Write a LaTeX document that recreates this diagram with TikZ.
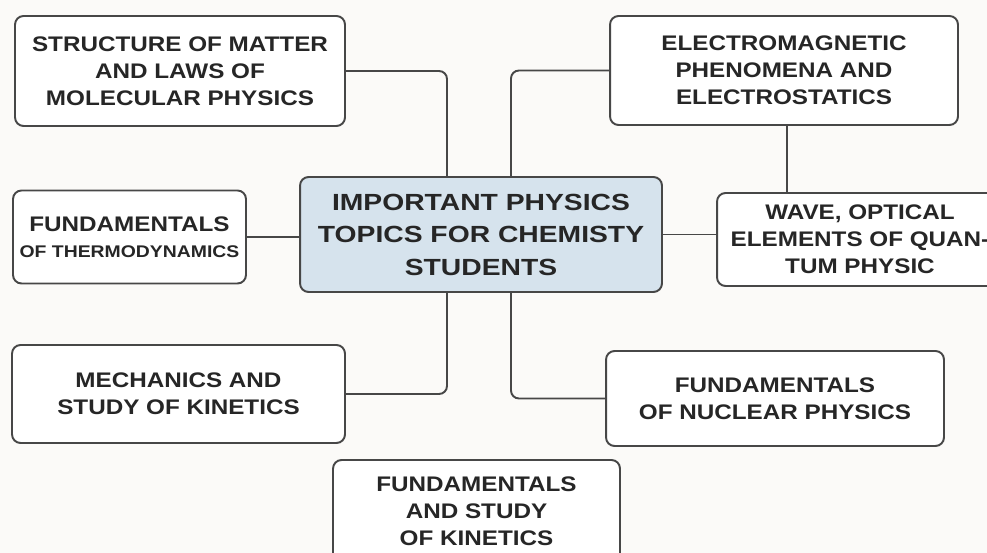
\documentclass[tikz,border=0pt]{standalone}
\usepackage{fontspec}
\newfontfamily\topicfont[FakeStretch=1.15]{Liberation Sans}
\newfontfamily\hubfont[FakeStretch=1.21]{Liberation Sans}

\begin{document}
\begin{tikzpicture}[x=0.02cm, y=-0.02cm,
    topic/.style={draw=edgegray, line width=1.1pt, rounded corners=0.17cm, fill=white,
        align=center, text=textgray, inner sep=0pt,
        font=\topicfont\bfseries\fontsize{12}{15.5}\selectfont},
    hub/.style={topic, fill=hubblue, font=\hubfont\bfseries\fontsize{13.3}{18.5}\selectfont},
    link/.style={draw=edgegray, line width=1.1pt, rounded corners=0.16cm}]
    \colorlet{edgegray}{black!72}
    \colorlet{textgray}{black!85}
    \definecolor{hubblue}{RGB}{214,227,237}
    \definecolor{paper}{RGB}{251,250,248}

    % page
    \clip (0,0) rectangle (987,553);
    \fill[paper] (0,0) rectangle (987,553);

    % topics
    \node[hub, minimum width=7.24cm, minimum height=2.3cm] (hub) at (481,234.5)
        {IMPORTANT PHYSICS\\TOPICS FOR CHEMISTY\\STUDENTS};
    \node[topic, minimum width=6.6cm, minimum height=2.2cm] (matter) at (180,71)
        {STRUCTURE OF MATTER\\AND LAWS OF\\MOLECULAR PHYSICS};
    \node[topic, minimum width=4.66cm, minimum height=1.86cm] (thermo) at (129.5,237)
        {FUNDAMENTALS\\[-1pt]{\fontsize{9.6}{12}\selectfont OF THERMODYNAMICS}};
    \node[topic, minimum width=6.96cm, minimum height=2.18cm] (electro) at (784,70.5)
        {ELECTROMAGNETIC\\PHENOMENA AND\\ELECTROSTATICS};
    \node[topic, minimum width=5.72cm, minimum height=1.86cm] (wave) at (860,239.5)
        {WAVE, OPTICAL\\ELEMENTS OF QUAN-\\TUM PHYSIC};
    \node[topic, minimum width=6.66cm, minimum height=1.96cm] (mech) at (178.5,394)
        {MECHANICS AND\\STUDY OF KINETICS};
    \node[topic, minimum width=6.76cm, minimum height=1.9cm] (nuclear) at (775,398.5)
        {FUNDAMENTALS\\OF NUCLEAR PHYSICS};
    \node[topic, minimum width=5.74cm, minimum height=2.06cm] (kinetics) at (476.5,511.5)
        {FUNDAMENTALS\\AND STUDY\\OF KINETICS};

    % joints
    \coordinate (jl) at (447,0);
    \coordinate (jr) at (511,0);

    % links
    \draw[link] (matter.east) -| (jl |- hub.north);
    \draw[link] (electro.west) -| (jr |- hub.north);
    \draw[link] (mech.east) -| (jl |- hub.south);
    \draw[link] (nuclear.west) -| (jr |- hub.south);
    \draw[link] (thermo.east) -- (thermo.east -| hub.west);
    \draw[link] (hub.east) -- (hub.east -| wave.west);
    \draw[link] (electro.south -| 787,0) -- (wave.north -| 787,0);
\end{tikzpicture}
\end{document}
